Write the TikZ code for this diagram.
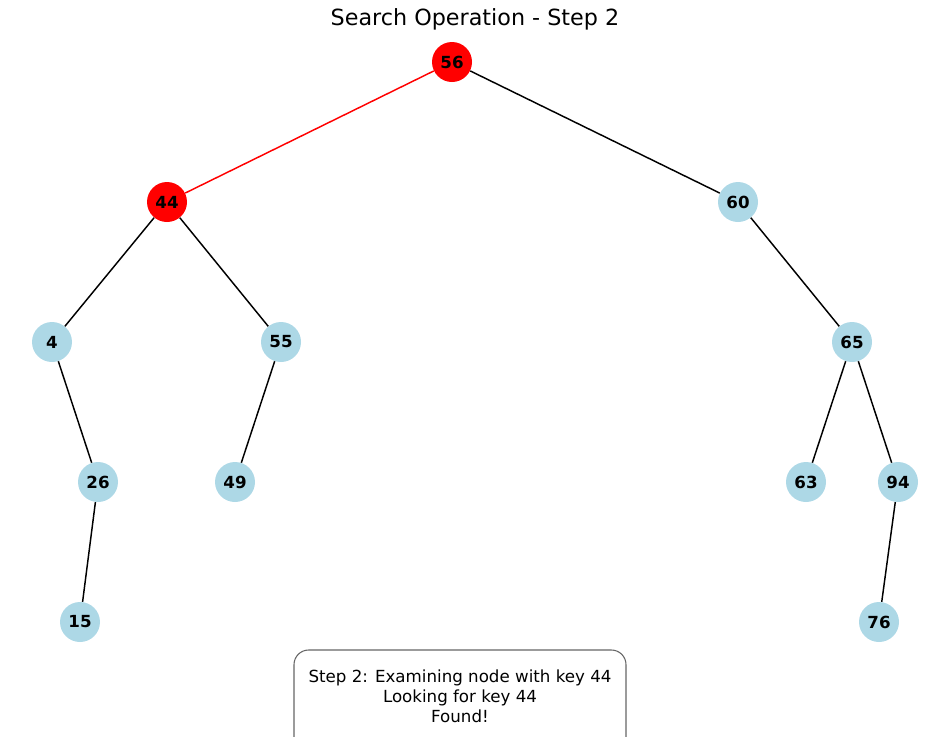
\documentclass[tikz,border=0pt]{standalone}
\usepackage{fontspec}
\setmainfont{DejaVu Sans}
\begin{document}
\begin{tikzpicture}[x=0.75pt,y=-0.75pt,
  tnode/.style={circle,fill=lightblueC,minimum size=30pt,inner sep=0pt,font=\fontsize{12.5}{14}\selectfont\bfseries},
  hit/.style={tnode,fill=red},
  edge/.style={draw=black,line width=1.1pt},
  redge/.style={draw=red,line width=1.1pt}]
\definecolor{lightblueC}{HTML}{ADD8E6}
\clip (0,0) rectangle (950,736);
\useasboundingbox (0,0) rectangle (950,736);
\node[font=\fontsize{16.7}{20}\selectfont] (title) at (475,19) {Search Operation - Step 2};
\node[hit] (n56) at (452,62) {56};
\node[hit] (n44) at (167,202) {44};
\node[tnode] (n60) at (738,202) {60};
\node[tnode] (n4) at (52,342) {4};
\node[tnode] (n55) at (281,342) {55};
\node[tnode] (n65) at (852,342) {65};
\node[tnode] (n26) at (98,482) {26};
\node[tnode] (n49) at (235,482) {49};
\node[tnode] (n63) at (806,482) {63};
\node[tnode] (n94) at (898,482) {94};
\node[tnode] (n15) at (80,622) {15};
\node[tnode] (n76) at (879,622) {76};
\begin{scope}[on background layer/.try]
\end{scope}
\path[redge] (n56) -- (n44);
\path[edge] (n56) -- (n60);
\path[edge] (n44) -- (n4);
\path[edge] (n44) -- (n55);
\path[edge] (n60) -- (n65);
\path[edge] (n4) -- (n26);
\path[edge] (n55) -- (n49);
\path[edge] (n65) -- (n63);
\path[edge] (n65) -- (n94);
\path[edge] (n26) -- (n15);
\path[edge] (n94) -- (n76);
\draw[gray!80!black,line width=0.8pt,rounded corners=11pt,fill=white] (294,650) rectangle (626,770);
\node[align=center,font=\fontsize{12.5}{15}\selectfont] (info) at (460,696) {Step 2: Examining node with key 44\\Looking for key 44\\Found!};
\end{tikzpicture}
\end{document}
